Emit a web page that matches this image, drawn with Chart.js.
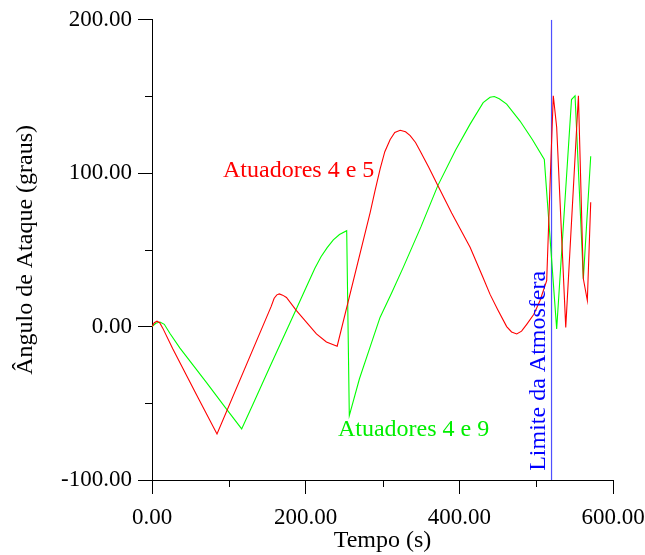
<!DOCTYPE html>
<html>
<head>
<meta charset="utf-8">
<script src="https://cdn.jsdelivr.net/npm/chart.js@4.4.1/dist/chart.umd.min.js"></script>
<style>
  body { margin: 0; background: #fff; }
  canvas { display: block; }
</style>
</head>
<body>
<canvas id="myChart" width="645" height="555"></canvas>
<script>
// Atuadores 4 e 5 (red)
const redTime  = [0, 3, 6.5, 10, 14, 27, 58.6, 84.6, 155, 159, 162.5, 165.7, 170, 175, 188, 214, 227, 241,
                  284, 290, 297, 303, 310, 316, 323, 330, 336, 343, 349, 360, 372, 390, 414, 430, 440, 450,
                  461.6, 468, 474.7, 481, 487.7, 497, 505, 513.7, 519, 522.3,
                  526.7, 538.5, 555, 561.4, 566.6, 571];
const redAngle = [0, 2.5, 3.5, 2.5, -1, -14.5, -45, -70, 13, 18.5, 20.7, 21.3, 20.5, 19, 10.4, -4.8, -10, -12.8,
                  74.5, 88, 103, 114, 122, 126.5, 128, 127, 124.5, 120, 114.5, 104, 92, 74, 51.7, 33, 21, 11,
                  0, -3.5, -4.8, -3, 1.5, 8, 17, 30, 106, 150.5,
                  130, -0.5, 150.5, 31.2, 17, 81];

// Atuadores 4 e 9 (green)
const greenTime  = [0, 5, 10.4, 16, 23.4, 36.4, 71, 97, 116.7, 132, 153.6, 188, 201, 212, 220, 228, 236, 244,
                    253.4, 256.8, 270, 283.7, 296.8, 312, 327, 350, 372, 395, 414, 431, 440, 445.5, 452, 461.6,
                    479, 495, 510.6, 526.7, 546, 550.6, 561.4, 571];
const greenAngle = [0, 2.2, 3, 1.5, -4.5, -14, -36.5, -53.8, -66.7, -50, -26, 11.7, 26, 38, 45.5, 51.5, 56.5, 60,
                    62.5, -58, -34, -13.5, 6, 22, 38.6, 65, 91.9, 115, 132, 146, 149.5, 150, 148.5, 145,
                    134, 122, 109, -1.5, 148, 150.5, 31.2, 111];

// Limite da Atmosfera
const atmosphereTime = 520;

const xMajorTicks = [0, 200, 400, 600];
const xMinorTicks = [100, 300, 500];
const yMajorTicks = [-100, 0, 100, 200];
const yMinorTicks = [-50, 50, 150];

const FONT = '"Liberation Serif", "Times New Roman", serif';

function toPoints(xs, ys) {
    return xs.map((x, i) => ({ x: x, y: ys[i] }));
}

// text notes, placed in data coordinates
const notes = [
    { text: 'Atuadores 4 e 5', x: 92.4, y: 97.5, color: '#ff0000', rotate: false },
    { text: 'Atuadores 4 e 9', x: 242, y: -71, color: '#00ee00', rotate: false },
    { text: 'Limite da Atmosfera', x: 511.5, y: -94, color: '#0000ff', rotate: true }
];

const extras = {
    id: 'extras',
    afterDraw(chart) {
        const ctx = chart.ctx;
        const xs = chart.scales.x;
        const ys = chart.scales.y;
        ctx.save();
        ctx.strokeStyle = '#000';
        ctx.lineWidth = 1;
        ctx.beginPath();
        xMinorTicks.forEach(v => {
            const px = Math.round(xs.getPixelForValue(v)) + 0.5;
            ctx.moveTo(px, ys.bottom);
            ctx.lineTo(px, ys.bottom + 7);
        });
        yMinorTicks.forEach(v => {
            const py = Math.round(ys.getPixelForValue(v)) + 0.5;
            ctx.moveTo(xs.left - 7, py);
            ctx.lineTo(xs.left, py);
        });
        ctx.stroke();

        ctx.font = '24px ' + FONT;
        ctx.textAlign = 'left';
        ctx.textBaseline = 'alphabetic';
        notes.forEach(n => {
            const px = xs.getPixelForValue(n.x);
            const py = ys.getPixelForValue(n.y);
            ctx.fillStyle = n.color;
            if (n.rotate) {
                ctx.save();
                ctx.translate(px, py);
                ctx.rotate(-Math.PI / 2);
                ctx.fillText(n.text, 0, 0);
                ctx.restore();
            } else {
                ctx.fillText(n.text, px, py);
            }
        });
        ctx.restore();
    }
};

const ctx = document.getElementById('myChart');

new Chart(ctx, {
    type: 'line',
    data: {
        datasets: [
            {
                label: 'Atuadores 4 e 5',
                data: toPoints(redTime, redAngle),
                borderColor: '#ff0000',
                borderWidth: 1.1,
                pointRadius: 0,
                tension: 0
            },
            {
                label: 'Atuadores 4 e 9',
                data: toPoints(greenTime, greenAngle),
                borderColor: '#00ff00',
                borderWidth: 1.1,
                pointRadius: 0,
                tension: 0
            },
            {
                label: 'Limite da Atmosfera',
                data: [{ x: atmosphereTime, y: yMajorTicks[0] }, { x: atmosphereTime, y: yMajorTicks[yMajorTicks.length - 1] }],
                borderColor: '#5050ff',
                borderWidth: 1.2,
                pointRadius: 0
            }
        ]
    },
    options: {
        responsive: false,
        animation: false,
        devicePixelRatio: 1,
        layout: { padding: { top: 19, right: 32, left: 0, bottom: 0 } },
        plugins: {
            legend: { display: false },
            tooltip: { enabled: false }
        },
        scales: {
            x: {
                type: 'linear',
                position: 'bottom',
                min: xMajorTicks[0],
                max: xMajorTicks[xMajorTicks.length - 1],
                afterBuildTicks: s => { s.ticks = xMajorTicks.map(v => ({ value: v })); },
                afterFit: s => { s.height = 75; s.paddingRight = 0; s.paddingLeft = 0; },
                ticks: {
                    callback: v => v.toFixed(2),
                    font: { family: FONT, size: 23 },
                    color: '#000',
                    padding: 10,
                    maxRotation: 0
                },
                grid: { drawOnChartArea: false, tickLength: 14, tickColor: '#000', color: '#000' },
                border: { color: '#000', width: 1 },
                title: {
                    display: true,
                    text: 'Tempo (s)',
                    font: { family: FONT, size: 24 },
                    color: '#000',
                    padding: { top: 0, bottom: 0 }
                }
            },
            y: {
                min: yMajorTicks[0],
                max: yMajorTicks[yMajorTicks.length - 1],
                afterBuildTicks: s => { s.ticks = yMajorTicks.map(v => ({ value: v })); },
                afterFit: s => { s.width = 152; },
                ticks: {
                    callback: v => v.toFixed(2),
                    font: { family: FONT, size: 23 },
                    color: '#000',
                    padding: 6
                },
                grid: { drawOnChartArea: false, tickLength: 14, tickColor: '#000', color: '#000' },
                border: { color: '#000', width: 1 },
                title: {
                    display: true,
                    text: 'Ângulo de Ataque (graus)',
                    font: { family: FONT, size: 24 },
                    color: '#000',
                    padding: { top: 11, bottom: 0 }
                }
            }
        }
    },
    plugins: [extras]
});
</script>
</body>
</html>
